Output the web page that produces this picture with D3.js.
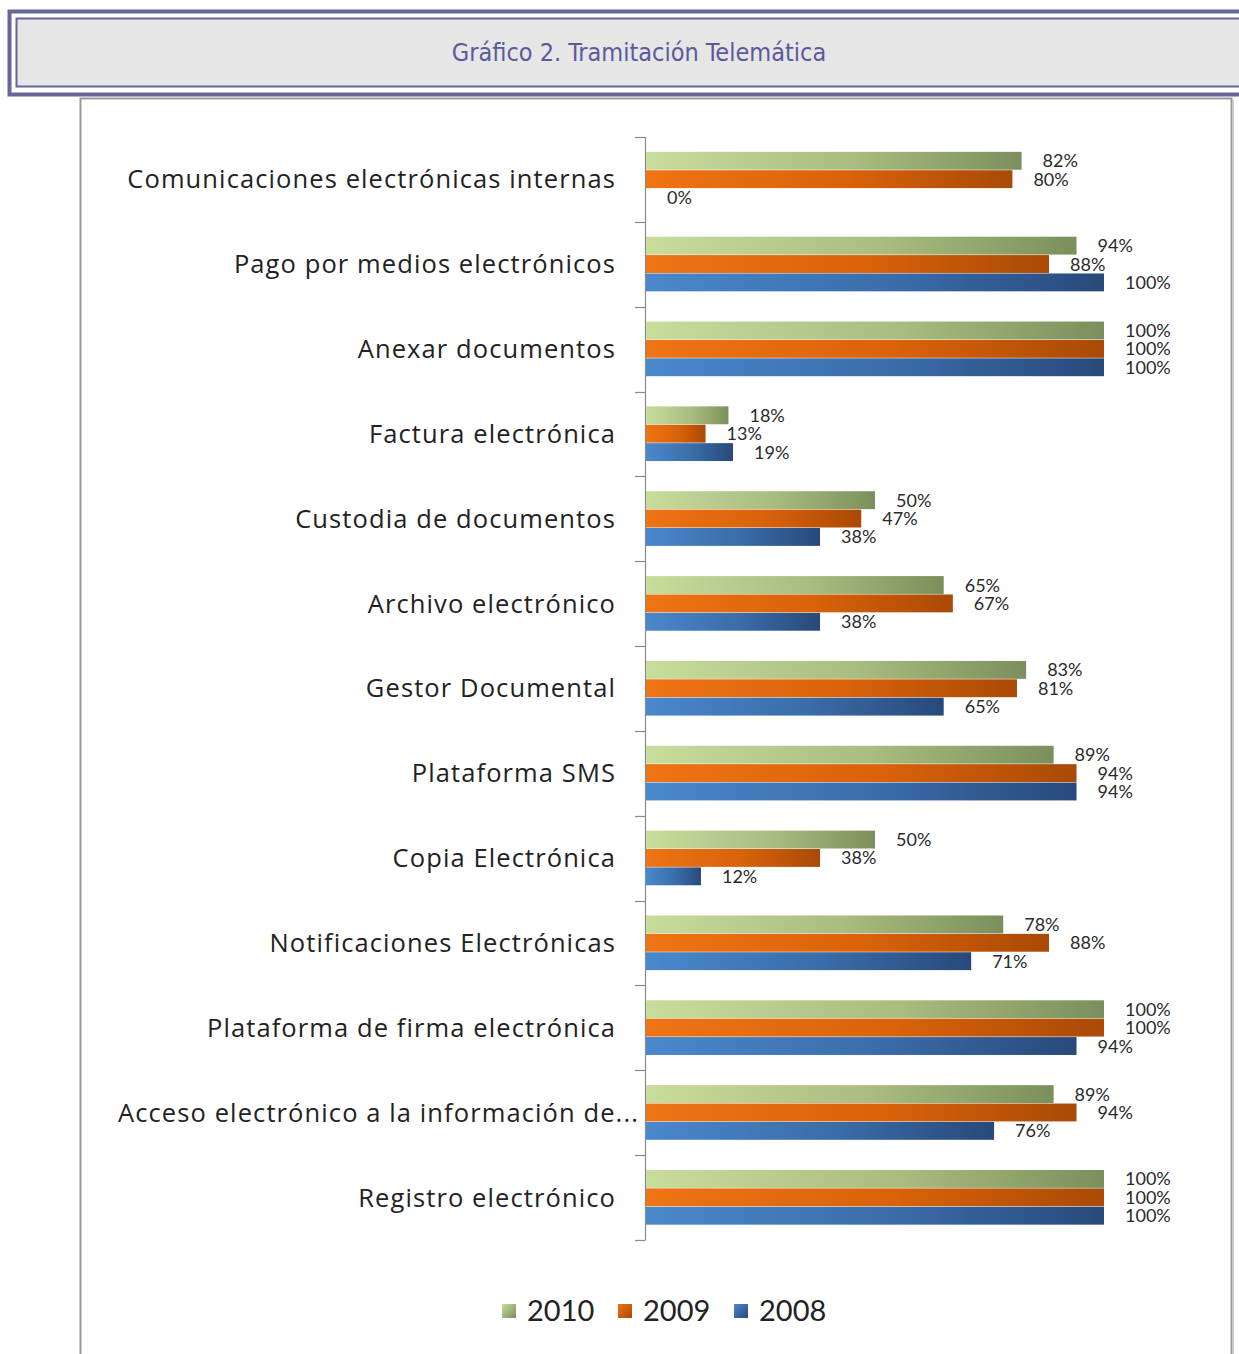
<!DOCTYPE html>
<html>
<head>
<meta charset="utf-8">
<script src="https://cdn.jsdelivr.net/npm/d3@7"></script>
<style>
  html, body { margin: 0; padding: 0; background: #fff; }
  svg { display: block; }
</style>
</head>
<body>
<svg id="chart" width="1239" height="1354"></svg>
<script>
// Categories, top to bottom
const categories = [
  "Comunicaciones electrónicas internas",
  "Pago por medios electrónicos",
  "Anexar documentos",
  "Factura electrónica",
  "Custodia de documentos",
  "Archivo electrónico",
  "Gestor Documental",
  "Plataforma SMS",
  "Copia Electrónica",
  "Notificaciones Electrónicas",
  "Plataforma de firma electrónica",
  "Acceso electrónico a la información de...",
  "Registro electrónico"
];
const seriesNames = ["2010", "2009", "2008"];
const values2010 = [82, 94, 100, 18, 50, 65, 83, 89, 50, 78, 100, 89, 100];
const values2009 = [80, 88, 100, 13, 47, 67, 81, 94, 38, 88, 100, 94, 100];
const values2008 = [0, 100, 100, 19, 38, 38, 65, 94, 12, 71, 94, 76, 100];
const seriesValues = [values2010, values2009, values2008];
const titleText = "Gráfico 2. Tramitación Telemática";

const svg = d3.select("#chart");
const defs = svg.append("defs");

// Header frame
const purple = "#65659a";
svg.append("rect").attr("x", 9.5).attr("y", 11.5).attr("width", 1240).attr("height", 83)
  .attr("fill", "#fff").attr("stroke", purple).attr("stroke-width", 4);
svg.append("rect").attr("x", 16.5).attr("y", 18.5).attr("width", 1230).attr("height", 68)
  .attr("fill", "#e6e6e6").attr("stroke", purple).attr("stroke-width", 2);
svg.append("text").attr("x", 639).attr("y", 61)
  .attr("text-anchor", "middle")
  .attr("font-family", "'Liberation Sans Narrow', 'Arial Narrow', 'DejaVu Sans Condensed', sans-serif")
  .attr("font-size", 25).attr("fill", "#5a5a9c")
  .text(titleText);

// Chart panel
svg.append("rect").attr("x", 80.5).attr("y", 98.5).attr("width", 1151).attr("height", 1270)
  .attr("fill", "#fff").attr("stroke", "#9a9a9a").attr("stroke-width", 2);
svg.append("line").attr("x1", 1233).attr("x2", 1233).attr("y1", 100).attr("y2", 1354)
  .attr("stroke", "#c8c8c8").attr("stroke-width", 2);

// Scales
const y = d3.scaleBand().domain(categories).range([137, 1240])
  .paddingInner(0.35).paddingOuter(0.175);
const ySub = d3.scaleBand().domain(seriesNames).range([0, y.bandwidth()]);
const x = d3.scaleLinear().domain([0, 100]).range([646, 1104]);

// Gradients for the bars
const gradStops = {
  "2010": ["#c8dc9c", "#a9bd80", "#7b8f5c"],
  "2009": ["#ee7414", "#d9620a", "#a94a06"],
  "2008": ["#4a88cc", "#3a6ca8", "#28497a"]
};
seriesNames.forEach(s => {
  const g = defs.append("linearGradient").attr("id", "g" + s)
    .attr("x1", "0").attr("x2", "1").attr("y1", "0").attr("y2", "0");
  const st = gradStops[s];
  g.append("stop").attr("offset", "0%").attr("stop-color", st[0]);
  g.append("stop").attr("offset", "55%").attr("stop-color", st[1]);
  g.append("stop").attr("offset", "100%").attr("stop-color", st[2]);
  // legend gradient
  const lg = defs.append("linearGradient").attr("id", "lg" + s)
    .attr("x1", "0").attr("x2", "1").attr("y1", "0").attr("y2", "1");
  lg.append("stop").attr("offset", "0%").attr("stop-color", st[0]);
  lg.append("stop").attr("offset", "100%").attr("stop-color", st[2]);
});

// Category axis line and boundary ticks
const axisColor = "#8a8a8a";
svg.append("line").attr("x1", 645.5).attr("x2", 645.5)
  .attr("y1", y.range()[0]).attr("y2", y.range()[1])
  .attr("stroke", axisColor).attr("stroke-width", 1.2);
const boundaries = categories.map(c => y(c) - y.step() * y.paddingOuter())
  .concat([y.range()[1]]);
svg.selectAll(".tick").data(boundaries).join("line")
  .attr("class", "tick")
  .attr("x1", 635).attr("x2", 645.5)
  .attr("y1", d => Math.round(d) + 0.5).attr("y2", d => Math.round(d) + 0.5)
  .attr("stroke", axisColor).attr("stroke-width", 1.2);

// Category labels
const labelFont = "Lato, 'Open Sans', sans-serif";
const catFont = "'Open Sans', Lato, sans-serif";
svg.selectAll(".cat").data(categories).join("text")
  .attr("class", "cat")
  .attr("x", d => d.endsWith("...") ? 639 : 616)
  .attr("y", d => y(d) + y.bandwidth() / 2)
  .attr("dy", "0.35em")
  .attr("text-anchor", "end")
  .attr("font-family", catFont).attr("font-size", 25.5)
  .attr("letter-spacing", 1.1)
  .attr("fill", "#222")
  .text(d => d);

// Bars and value labels
const rows = [];
categories.forEach((c, i) => {
  seriesNames.forEach((s, j) => rows.push({ cat: c, series: s, value: seriesValues[j][i] }));
});
const barH = ySub.bandwidth();
svg.selectAll(".bar").data(rows.filter(d => d.value > 0)).join("rect")
  .attr("class", "bar")
  .attr("x", x(0))
  .attr("y", d => y(d.cat) + ySub(d.series))
  .attr("width", d => x(d.value) - x(0))
  .attr("height", barH - 0.5)
  .attr("fill", d => `url(#g${d.series})`);

svg.selectAll(".val").data(rows).join("text")
  .attr("class", "val")
  .attr("x", d => x(d.value) + 21)
  .attr("y", d => y(d.cat) + ySub(d.series) + barH / 2)
  .attr("dy", "0.35em")
  .attr("font-family", labelFont).attr("font-size", 18)
  .attr("fill", "#2a2a2a")
  .text(d => d.value + "%");

// Legend
const legendX = [502, 618, 734];
const legend = svg.selectAll(".leg").data(seriesNames).join("g")
  .attr("class", "leg")
  .attr("transform", (d, i) => `translate(${legendX[i]},1311)`);
legend.append("rect").attr("x", 0).attr("y", -7).attr("width", 14).attr("height", 14)
  .attr("fill", d => `url(#lg${d})`);
legend.append("text").attr("x", 25).attr("y", 0).attr("dy", "0.36em")
  .attr("font-family", labelFont).attr("font-size", 29).attr("fill", "#222")
  .text(d => d);
</script>
</body>
</html>
